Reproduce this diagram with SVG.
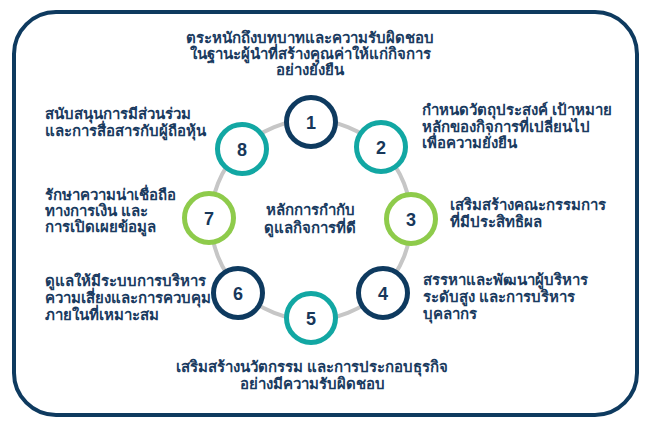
<svg xmlns="http://www.w3.org/2000/svg" width="650" height="423" viewBox="0 0 650 423">
<style>
.t{font-family:"Noto Sans","Liberation Sans",sans-serif;font-size:15px;font-weight:bold;fill:#1a3b5f}
.m{text-anchor:middle}
.n{font-family:"Liberation Sans",Arial,sans-serif;font-size:18px;font-weight:bold;fill:#17375a;text-anchor:middle}
.c{fill:#fff;stroke-width:5}
.navy{stroke:#0e3a5f}
.teal{stroke:#12a7a3}
.green{stroke:#8ecb4b}
</style>
<rect x="14" y="12" width="623" height="403" rx="42" ry="42" fill="#fff" stroke="#0e3a5f" stroke-width="4"/>
<g id="connectors">
<circle cx="311" cy="220" r="100" fill="none" stroke="#c6c6c6" stroke-width="4"/>
</g>
<g id="center"><text class="t m" x="310" y="215">หลักการกำกับ<tspan x="310" dy="18">ดูแลกิจการที่ดี</tspan></text></g>
<g id="n1"><circle class="c navy" cx="311" cy="122" r="24.5"/><text class="n" x="311" y="129">1</text>
<text class="t m" x="310" y="43">ตระหนักถึงบทบาทและความรับผิดชอบ<tspan x="310" dy="16">ในฐานะผู้นำที่สร้างคุณค่าให้แก่กิจการ</tspan><tspan x="310" dy="16">อย่างยั่งยืน</tspan></text></g>
<g id="n2"><circle class="c teal" cx="381" cy="147" r="24.5"/><text class="n" x="381" y="154">2</text>
<text class="t" x="422" y="115">กำหนดวัตถุประสงค์ เป้าหมาย<tspan x="422" dy="17">หลักของกิจการที่เปลี่ยนไป</tspan><tspan x="422" dy="16">เพื่อความยั่งยืน</tspan></text></g>
<g id="n3"><circle class="c green" cx="411" cy="219" r="24.5"/><text class="n" x="411" y="226">3</text>
<text class="t" x="450" y="210">เสริมสร้างคณะกรรมการ<tspan x="450" dy="17">ที่มีประสิทธิผล</tspan></text></g>
<g id="n4"><circle class="c navy" cx="383" cy="293" r="24.5"/><text class="n" x="383" y="300">4</text>
<text class="t" x="423" y="285">สรรหาและพัฒนาผู้บริหาร<tspan x="423" dy="17">ระดับสูง และการบริหาร</tspan><tspan x="423" dy="17">บุคลากร</tspan></text></g>
<g id="n5"><circle class="c teal" cx="311" cy="318" r="24.5"/><text class="n" x="311" y="325">5</text>
<text class="t m" x="312" y="372">เสริมสร้างนวัตกรรม และการประกอบธุรกิจ<tspan x="312" dy="17">อย่างมีความรับผิดชอบ</tspan></text></g>
<g id="n6"><circle class="c navy" cx="238" cy="293" r="24.5"/><text class="n" x="238" y="300">6</text>
<text class="t" x="45" y="286">ดูแลให้มีระบบการบริหาร<tspan x="45" dy="17">ความเสี่ยงและการควบคุม</tspan><tspan x="45" dy="17">ภายในที่เหมาะสม</tspan></text></g>
<g id="n7"><circle class="c green" cx="209" cy="218" r="24.5"/><text class="n" x="209" y="225">7</text>
<text class="t" x="45" y="200">รักษาความน่าเชื่อถือ<tspan x="45" dy="16">ทางการเงิน และ</tspan><tspan x="45" dy="16">การเปิดเผยข้อมูล</tspan></text></g>
<g id="n8"><circle class="c teal" cx="242" cy="149" r="24.5"/><text class="n" x="242" y="156">8</text>
<text class="t" x="45" y="119">สนับสนุนการมีส่วนร่วม<tspan x="45" dy="17">และการสื่อสารกับผู้ถือหุ้น</tspan></text></g>
</svg>
